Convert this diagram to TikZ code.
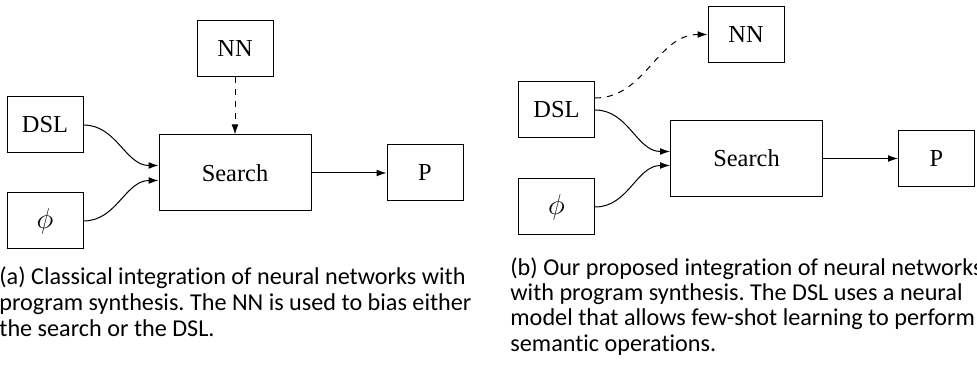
\documentclass[tikz,border=0pt]{standalone}
\usepackage{fontspec}
\setmainfont{Liberation Serif}
\newfontfamily\capfont[Ligatures=NoCommon]{Carlito}
\usetikzlibrary{arrows.meta}
\begin{document}
\frenchspacing
\begin{tikzpicture}[
        x=0.5pt, y=-0.5pt,
        box/.style={rectangle, draw, line width=0.5pt, minimum width=38pt, minimum height=28pt, inner sep=0pt, font=\fontsize{12.2}{14}\selectfont},
        bigbox/.style={box, minimum width=76pt, minimum height=38pt},
        arrow/.style={-{Latex[length=5pt,width=3.4pt]}, line width=0.5pt},
        caption/.style={anchor=base west, inner sep=0pt, font=\capfont\fontsize{12.1}{13}\selectfont}
    ]
        \useasboundingbox (0,0) rectangle (977,368);

        % (a) Classical integration
        \node[box] (nnA) at (235,48.5) {NN};
        \node[box] (dslA) at (45,125) {DSL};
        \node[box] (phiA) at (45,221) {\fontsize{14.4}{16}\selectfont$\phi$};
        \node[bigbox] (searchA) at (235,173) {Search};
        \node[box] (progA) at (425,173) {P};

        \draw[arrow] (dslA.east) to[out=0, in=180] ([yshift=3.75pt]searchA.west);
        \draw[arrow] (phiA.east) to[out=0, in=180] ([yshift=-3.75pt]searchA.west);
        \draw[arrow, dashed] (nnA) -- (searchA);
        \draw[arrow] (searchA) -- (progA);

        % (b) Proposed integration
        \node[box] (nnB) at (746,34.5) {NN};
        \node[box] (dslB) at (556.5,110) {DSL};
        \node[box] (phiB) at (556.5,207) {\fontsize{14.4}{16}\selectfont$\phi$};
        \node[bigbox] (searchB) at (746.5,158.5) {Search};
        \node[box] (progB) at (936.5,158.5) {P};

        \draw[arrow, dashed] ([yshift=6pt]dslB.east) to[out=0, in=180] (nnB.west);
        \draw[arrow] (dslB.east) to[out=0, in=180] ([yshift=3.5pt]searchB.west);
        \draw[arrow] (phiB.east) to[out=0, in=180] ([yshift=-3.5pt]searchB.west);
        \draw[arrow] (searchB) -- (progB);

        % Captions
        \node[caption] (capA1) at (-1,285) {(a) Classical integration of neural networks with};
        \node[caption] (capA2) at (-1,310.5) {program synthesis. The NN is used to bias either};
        \node[caption] (capA3) at (-1,336) {the search or the DSL.};
        \node[caption] (capB1) at (510,275) {(b) Our proposed integration of neural networks};
        \node[caption] (capB2) at (510,300.3) {with program synthesis. The DSL uses a neural};
        \node[caption] (capB3) at (510,325.6) {model that allows few-shot learning to perform};
        \node[caption] (capB4) at (510,351) {semantic operations.};
    \end{tikzpicture}
\end{document}
